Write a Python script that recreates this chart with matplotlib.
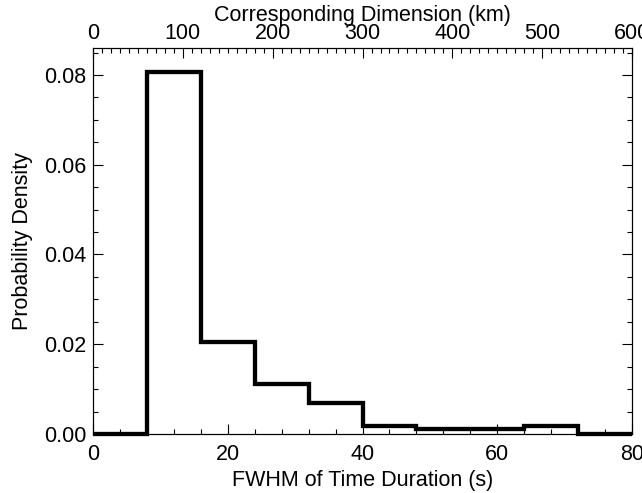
import numpy as np
import matplotlib
matplotlib.use('Agg')
import matplotlib.pyplot as plt
from matplotlib.ticker import MultipleLocator

plt.rcParams['font.family'] = ['Liberation Sans', 'DejaVu Sans']

# histogram of FWHM durations (s), bin width 8 s
bin_edges = [0, 8, 16, 24, 32, 40, 48, 56, 64, 72, 80]
density = [0.0, 0.0807, 0.0204, 0.0111, 0.0068, 0.0018, 0.0010, 0.0010, 0.0018, 0.0]
km_per_s = 7.5

fs = 15.5

fig = plt.figure(figsize=(6.42, 4.93), dpi=100)
ax = fig.add_axes([0.145, 0.1197, 0.8394, 0.7829])

ax.stairs(density, bin_edges, color='black', linewidth=3.1, baseline=0, clip_on=False, zorder=5)

ax.set_xlim(0, 80)
ax.set_ylim(0, 0.086)
ax.xaxis.set_major_locator(MultipleLocator(20))
ax.xaxis.set_minor_locator(MultipleLocator(4))
ax.yaxis.set_major_locator(MultipleLocator(0.02))
ax.yaxis.set_minor_locator(MultipleLocator(0.005))
ax.yaxis.set_major_formatter(plt.FuncFormatter(lambda v, p: '%.2f' % v))
ax.tick_params(which='both', direction='in', top=False, right=True, labelsize=fs, width=0.8)
ax.tick_params(which='major', length=7.5)
ax.tick_params(axis='x', which='major', pad=7)
ax.tick_params(axis='y', which='major', pad=5)
ax.tick_params(which='minor', length=3.8)
ax.set_xlabel('FWHM of Time Duration (s)', fontsize=fs, labelpad=4)
ax.set_ylabel('Probability Density', fontsize=fs, labelpad=8)
for sp in ax.spines.values():
    sp.set_linewidth(0.8)

ax2 = ax.twiny()
ax2.set_xlim(0, 80 * km_per_s)
ax2.xaxis.set_major_locator(MultipleLocator(100))
ax2.xaxis.set_minor_locator(MultipleLocator(10))
ax2.tick_params(which='both', direction='in', labelsize=fs, width=0.8)
ax2.tick_params(which='major', length=7.5, pad=3)
ax2.tick_params(which='minor', length=3.8)
ax2.set_xlabel('Corresponding Dimension (km)', fontsize=fs, labelpad=1)

fig.savefig('out.png', dpi=100)
